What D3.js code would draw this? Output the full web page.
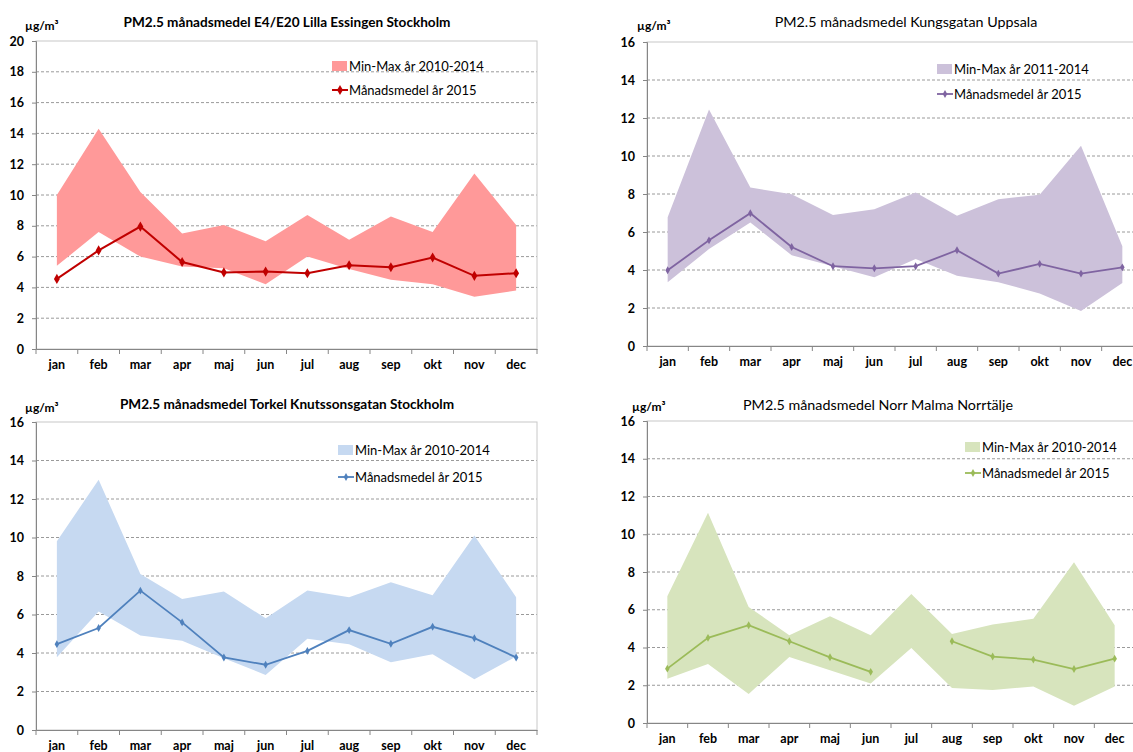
<!DOCTYPE html>
<html><head><meta charset="utf-8">
<script src="https://cdn.jsdelivr.net/npm/d3@7"></script>
<style>body{margin:0;background:#fff;overflow:hidden} svg{display:block} text{font-family:Lato,"Open Sans",sans-serif}</style>
</head><body>
<svg id="c" width="1133" height="752"></svg>
<script>
const months = ["jan","feb","mar","apr","maj","jun","jul","aug","sep","okt","nov","dec"];

const essingenMax  = [10.0, 14.3, 10.2, 7.5, 8.05, 7.0, 8.7, 7.1, 8.6, 7.6, 11.4, 8.05];
const essingenMin  = [5.4, 7.6, 6.0, 5.35, 5.25, 4.2, 6.0, 5.2, 4.5, 4.2, 3.4, 3.8];
const essingenMean = [4.55, 6.4, 7.95, 5.65, 4.97, 5.03, 4.92, 5.44, 5.31, 5.94, 4.75, 4.92];

const kungsgatanMax  = [6.78, 12.45, 8.34, 7.99, 6.9, 7.2, 8.08, 6.85, 7.73, 7.96, 10.54, 5.25];
const kungsgatanMin  = [3.36, 5.1, 6.5, 4.77, 4.2, 3.62, 4.58, 3.7, 3.36, 2.76, 1.84, 3.32];
const kungsgatanMean = [3.99, 5.56, 6.99, 5.21, 4.2, 4.09, 4.2, 5.04, 3.81, 4.32, 3.81, 4.14];

const torkelMax  = [9.8, 13.0, 8.1, 6.8, 7.2, 5.8, 7.25, 6.9, 7.67, 7.0, 10.1, 6.9];
const torkelMin  = [3.78, 6.16, 4.91, 4.63, 3.73, 2.86, 4.74, 4.46, 3.52, 3.94, 2.64, 3.82];
const torkelMean = [4.46, 5.3, 7.24, 5.59, 3.77, 3.39, 4.11, 5.19, 4.48, 5.36, 4.77, 3.77];

const norrMalmaMax  = [6.72, 11.14, 6.15, 4.65, 5.66, 4.65, 6.84, 4.72, 5.22, 5.52, 8.52, 5.18];
const norrMalmaMin  = [2.35, 3.13, 1.54, 3.5, 2.79, 2.09, 3.98, 1.86, 1.75, 1.93, 0.92, 1.94];
const norrMalmaMean = [2.88, 4.51, 5.18, 4.33, 3.48, 2.71, null, 4.33, 3.52, 3.36, 2.86, 3.41];

const ticks20 = [0, 2, 4, 6, 8, 10, 12, 14, 16, 18, 20];
const ticks16 = [0, 2, 4, 6, 8, 10, 12, 14, 16];

const panels = [
  {title:"PM2.5 månadsmedel E4/E20 Lilla Essingen Stockholm", bold:true, tsize:13.6, rangeLabel:"Min-Max år 2010-2014",
   max:essingenMax, min:essingenMin, mean:essingenMean, ticks:ticks20,
   fill:"#FF9999", line:"#C00000", mk:30, lw:2,
   left:36, right:537, top:41, bottom:349, titleX:287, titleY:27, unitX:25, unitY:30, legX:332, legY:66, legDy:24},
  {title:"PM2.5 månadsmedel Kungsgatan Uppsala", bold:false, tsize:14.3, rangeLabel:"Min-Max år 2011-2014",
   max:kungsgatanMax, min:kungsgatanMin, mean:kungsgatanMean, ticks:ticks16,
   fill:"#CCC1DA", line:"#7F64A1", mk:18, lw:1.8,
   left:647, right:1143, top:42, bottom:346, titleX:906, titleY:27, unitX:637, unitY:30, legX:937, legY:69, legDy:25},
  {title:"PM2.5 månadsmedel Torkel Knutssonsgatan Stockholm", bold:true, tsize:13.6, rangeLabel:"Min-Max år 2010-2014",
   max:torkelMax, min:torkelMin, mean:torkelMean, ticks:ticks16,
   fill:"#C6D9F1", line:"#4F81BD", mk:18, lw:1.8,
   left:36, right:537, top:422, bottom:730, titleX:287, titleY:409, unitX:25, unitY:412, legX:338, legY:450, legDy:27},
  {title:"PM2.5 månadsmedel Norr Malma Norrtälje", bold:false, tsize:14.3, rangeLabel:"Min-Max år 2010-2014",
   max:norrMalmaMax, min:norrMalmaMin, mean:norrMalmaMean, ticks:ticks16,
   fill:"#D7E4BD", line:"#9BBB59", mk:18, lw:1.8,
   left:647, right:1135, top:421, bottom:723, titleX:878, titleY:410, unitX:632, unitY:411, legX:965, legY:447, legDy:26}
];

const svg = d3.select("#c");

panels.forEach(p => {
  const g = svg.append("g");
  const x = d3.scaleBand().domain(months).range([p.left, p.right]);
  const yMax = p.ticks[p.ticks.length - 1];
  const y = d3.scaleLinear().domain([0, yMax]).range([p.bottom, p.top]);
  const cx = m => x(m) + x.bandwidth() / 2;

  // gridlines
  g.selectAll("line.grid").data(p.ticks.filter(t => t > 0 && t < yMax)).join("line")
    .attr("x1", p.left).attr("x2", p.right).attr("y1", d => y(d)).attr("y2", d => y(d))
    .attr("stroke", "#9A9A9A").attr("stroke-width", 1).attr("stroke-dasharray", "3,2");

  // plot border
  g.append("rect").attr("x", p.left).attr("y", y(yMax)).attr("width", p.right - p.left)
    .attr("height", y(0) - y(yMax)).attr("fill", "none").attr("stroke", "#C8C8C8");

  // area
  const rows = months.map((m, i) => ({m, lo: p.min[i], hi: p.max[i], v: p.mean[i]}));
  g.append("path").datum(rows)
    .attr("d", d3.area().x(d => cx(d.m)).y0(d => y(d.lo)).y1(d => y(d.hi)))
    .attr("fill", p.fill);

  // line
  g.append("path").datum(rows)
    .attr("d", d3.line().defined(d => d.v != null).x(d => cx(d.m)).y(d => y(d.v)))
    .attr("fill", "none").attr("stroke", p.line).attr("stroke-width", p.lw);
  g.selectAll("path.mk").data(rows.filter(d => d.v != null)).join("path")
    .attr("transform", d => `translate(${cx(d.m)},${y(d.v)})`)
    .attr("d", d3.symbol(d3.symbolDiamond, p.mk)).attr("fill", p.line);

  // y axis
  const ya = g.append("g").attr("transform", `translate(${p.left},0)`)
    .call(d3.axisLeft(y).tickValues(p.ticks).tickSize(4).tickPadding(8).tickFormat(d3.format("d")));
  ya.select(".domain").attr("stroke", "#868686");
  ya.selectAll(".tick line").attr("stroke", "#868686");
  ya.selectAll("text").attr("font-size", 12.5).attr("font-weight", "bold").attr("fill", "#000");

  // x axis
  const xa = g.append("g").attr("transform", `translate(0,${p.bottom})`)
    .call(d3.axisBottom(x).tickSize(0).tickPadding(11));
  xa.select(".domain").attr("stroke", "#868686");
  xa.selectAll("text").attr("font-size", 12.5).attr("font-weight", "bold").attr("fill", "#000");
  g.selectAll("line.xt").data(months.concat(["__end"])).join("line")
    .attr("x1", d => d === "__end" ? p.right : x(d)).attr("x2", d => d === "__end" ? p.right : x(d))
    .attr("y1", p.bottom).attr("y2", p.bottom + 5).attr("stroke", "#868686");

  // title
  g.append("text").attr("x", p.titleX).attr("y", p.titleY).attr("text-anchor", "middle")
    .attr("font-size", p.tsize).attr("font-weight", p.bold ? "bold" : "normal")
    .attr("fill", "#000").text(p.title);

  // unit
  g.append("text").attr("x", p.unitX).attr("y", p.unitY).attr("font-size", 12)
    .attr("font-weight", "bold").attr("fill", "#000").text("µg/m³");

  // legend
  g.append("rect").attr("x", p.legX).attr("y", p.legY - 5).attr("width", 15).attr("height", 10).attr("fill", p.fill);
  g.append("text").attr("x", p.legX + 17).attr("y", p.legY).attr("dy", "0.35em")
    .attr("font-size", 13).attr("fill", "#000").text(p.rangeLabel);
  const ly = p.legY + p.legDy;
  g.append("line").attr("x1", p.legX).attr("x2", p.legX + 16).attr("y1", ly).attr("y2", ly)
    .attr("stroke", p.line).attr("stroke-width", p.lw);
  g.append("path").attr("transform", `translate(${p.legX + 8},${ly})`)
    .attr("d", d3.symbol(d3.symbolDiamond, p.mk)).attr("fill", p.line);
  g.append("text").attr("x", p.legX + 17).attr("y", ly).attr("dy", "0.35em")
    .attr("font-size", 13).attr("fill", "#000").text("Månadsmedel år 2015");
});
</script>
</body></html>
